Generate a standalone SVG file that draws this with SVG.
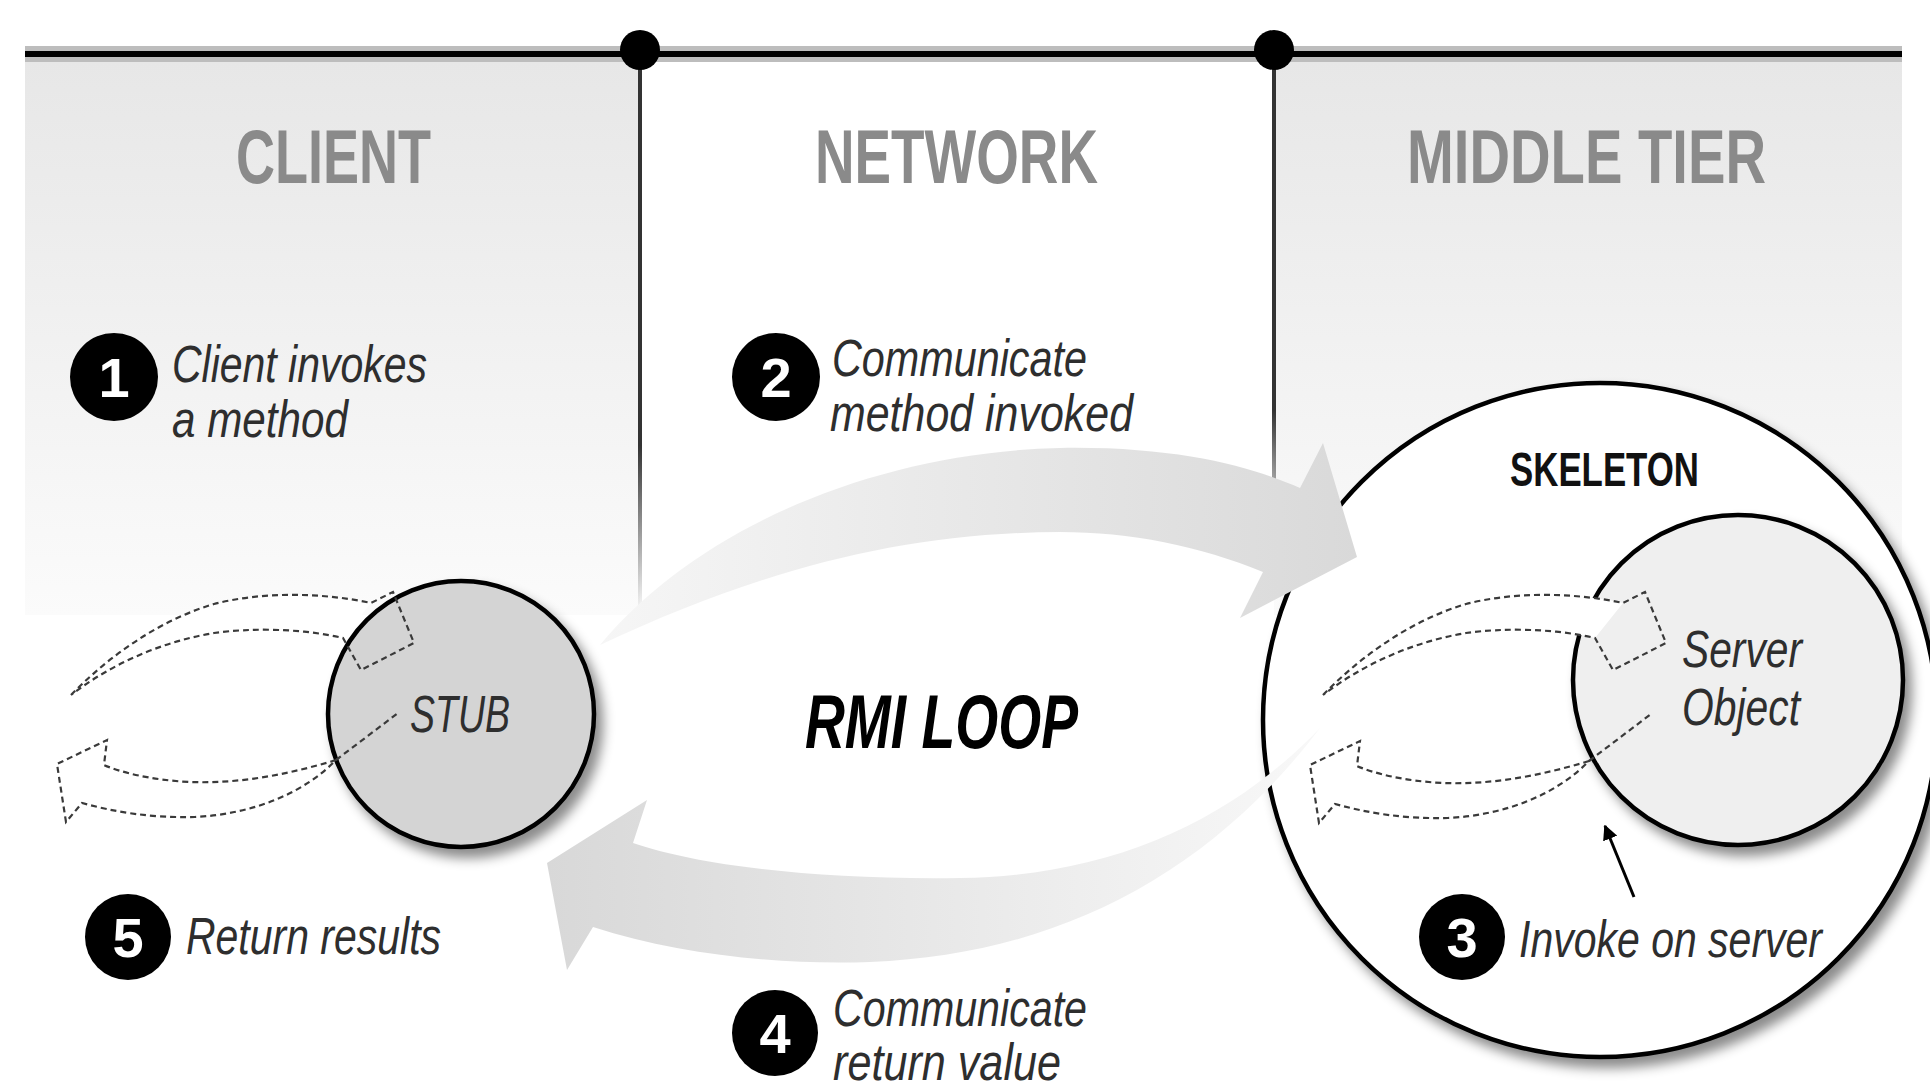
<svg xmlns="http://www.w3.org/2000/svg" xmlns:xlink="http://www.w3.org/1999/xlink" width="1930" height="1091" viewBox="0 0 1930 1091">
  <style>
    .hdr { font-family: "Liberation Sans", Arial, sans-serif; font-weight: bold; font-size: 76px; fill: #8a8a8a; }
    .lbl { font-family: "Liberation Sans", Arial, sans-serif; font-style: italic; font-size: 52px; fill: #2e2e2e; }
    .num { font-family: "Liberation Sans", Arial, sans-serif; font-weight: bold; font-size: 56px; fill: #ffffff; text-anchor: middle; }
    .step { fill: #000000; }
    .sep { stroke-width: 4; fill: none; }
    .dash { fill: none; stroke: #3a3a3a; stroke-width: 2.2; stroke-dasharray: 6 4; }
    .ring { stroke: #000000; stroke-width: 4.5; }
  </style>
  <defs>
    <linearGradient id="panelGrad" x1="0" y1="62" x2="0" y2="615" gradientUnits="userSpaceOnUse">
      <stop offset="0" stop-color="#e7e7e7"/>
      <stop offset="1" stop-color="#fbfbfb"/>
    </linearGradient>
    <linearGradient id="sepGradL" x1="0" y1="50" x2="0" y2="615" gradientUnits="userSpaceOnUse">
      <stop offset="0.7" stop-color="#333333"/>
      <stop offset="1" stop-color="#333333" stop-opacity="0"/>
    </linearGradient>
    <linearGradient id="sepGradR" x1="0" y1="50" x2="0" y2="500" gradientUnits="userSpaceOnUse">
      <stop offset="0.8" stop-color="#333333"/>
      <stop offset="1" stop-color="#333333" stop-opacity="0.3"/>
    </linearGradient>
    <linearGradient id="upGrad" x1="600" y1="0" x2="1357" y2="0" gradientUnits="userSpaceOnUse">
      <stop offset="0" stop-color="#f6f6f6"/>
      <stop offset="1" stop-color="#d9d9d9"/>
    </linearGradient>
    <linearGradient id="downGrad" x1="1320" y1="0" x2="547" y2="0" gradientUnits="userSpaceOnUse">
      <stop offset="0" stop-color="#f8f8f8"/>
      <stop offset="1" stop-color="#d8d8d8"/>
    </linearGradient>
    <filter id="shadow" x="-20%" y="-20%" width="150%" height="150%">
      <feDropShadow dx="7" dy="9" stdDeviation="6" flood-color="#000000" flood-opacity="0.45"/>
    </filter>
    <marker id="blackHead" viewBox="0 0 10 10" refX="9" refY="5" markerWidth="5" markerHeight="5" orient="auto" markerUnits="strokeWidth">
      <path d="M0,0 L10,5 L0,10 Z" fill="#000000"/>
    </marker>
    <g id="dashUp">
      <path d="M71,695 C110,655 160,620 214,604 C260,592 320,592 371,603 L343,638 C300,628 250,628 214,633 C160,642 110,665 71,695 Z" fill="#ffffff"/>
      <path class="dash" d="M71,695 C110,655 160,620 214,604 C260,592 320,592 371,603 L393,592 L414,643 L361,670 L343,638 C300,628 250,628 214,633 C160,642 110,665 71,695 Z"/>
    </g>
    <g id="dashDown">
      <path class="dash" d="M336,760 C290,774 240,784 190,782 C150,780 120,772 104,765 L107,740 L57,764 L66,822 L82,803 C115,812 150,818 195,817 C255,814 305,792 336,760 Z"/>
      <path class="dash" d="M336,760 L398,713"/>
    </g>
  </defs>

  <rect x="0" y="0" width="1930" height="1091" fill="#ffffff"/>

  <g id="panels">
    <rect id="panel-client" x="25" y="62" width="615" height="553" fill="url(#panelGrad)"/>
    <rect id="panel-network" x="640" y="62" width="634" height="553" fill="#ffffff"/>
    <rect id="panel-middle" x="1274" y="62" width="628" height="553" fill="url(#panelGrad)"/>
    <rect x="25" y="46" width="1877" height="16" fill="#bdbdbd"/>
    <line x1="25" y1="54" x2="1902" y2="54" stroke="#000000" stroke-width="6"/>
    <line class="sep" x1="640" y1="50" x2="640" y2="615" stroke="url(#sepGradL)"/>
    <line class="sep" x1="1274" y1="50" x2="1274" y2="500" stroke="url(#sepGradR)"/>
    <circle cx="640" cy="50" r="20" fill="#000000"/>
    <circle cx="1274" cy="50" r="20" fill="#000000"/>
    <text class="hdr" x="236" y="183" textLength="195" lengthAdjust="spacingAndGlyphs">CLIENT</text>
    <text class="hdr" x="815" y="183" textLength="283" lengthAdjust="spacingAndGlyphs">NETWORK</text>
    <text class="hdr" x="1407" y="183" textLength="359" lengthAdjust="spacingAndGlyphs">MIDDLE TIER</text>
  </g>

  <g id="skeleton">
    <circle class="ring" cx="1600" cy="720" r="337" fill="#ffffff" filter="url(#shadow)"/>
    <text x="1510" y="486" font-family="'Liberation Sans', Arial, sans-serif" font-weight="bold" font-size="48" fill="#111111" textLength="189" lengthAdjust="spacingAndGlyphs">SKELETON</text>
  </g>

  <g id="server-object">
    <circle class="ring" cx="1738" cy="680" r="165" fill="#efefef" filter="url(#shadow)"/>
    <text class="lbl" x="1682" y="667" font-size="56" textLength="120" lengthAdjust="spacingAndGlyphs" fill="#333333">Server</text>
    <text class="lbl" x="1682" y="725" font-size="56" textLength="118" lengthAdjust="spacingAndGlyphs" fill="#333333">Object</text>
  </g>

  <g id="stub">
    <circle class="ring" cx="461" cy="714" r="133" fill="#d4d4d4" filter="url(#shadow)"/>
    <text class="lbl" x="410" y="732" font-size="58" textLength="100" lengthAdjust="spacingAndGlyphs" fill="#333333">STUB</text>
  </g>

  <g id="connectors">
    <path id="arrow-invoke" d="M600,645 C700,525 880,452 1060,448 C1180,446 1255,468 1300,488 L1323,443 L1357,557 L1240,618 L1263,572 C1200,546 1130,532 1060,532 C900,533 760,570 600,645 Z" fill="url(#upGrad)"/>
    <path id="arrow-return" d="M1320,728 C1230,822 1110,876 960,878 C820,880 700,866 633,843 L647,800 L547,863 L567,970 L593,927 C680,955 780,965 870,962 C1050,955 1205,880 1320,728 Z" fill="url(#downGrad)"/>
    <use href="#dashUp"/>
    <use href="#dashDown"/>
    <use href="#dashUp" transform="translate(1252,0)"/>
    <use href="#dashDown" transform="translate(1253,1)"/>
    <line x1="1634" y1="897" x2="1605" y2="826" stroke="#000000" stroke-width="3" marker-end="url(#blackHead)"/>
  </g>

  <g id="rmi-loop">
    <text x="805" y="748" font-family="'Liberation Sans', Arial, sans-serif" font-weight="bold" font-style="italic" font-size="76" fill="#000000" textLength="273" lengthAdjust="spacingAndGlyphs">RMI LOOP</text>
  </g>

  <g id="step1">
    <circle class="step" cx="114" cy="377" r="44"/>
    <text class="num" x="114" y="397">1</text>
    <text class="lbl" x="172" y="382" textLength="255" lengthAdjust="spacingAndGlyphs">Client invokes</text>
    <text class="lbl" x="172" y="437" textLength="176" lengthAdjust="spacingAndGlyphs">a method</text>
  </g>
  <g id="step2">
    <circle class="step" cx="776" cy="377" r="44"/>
    <text class="num" x="776" y="397">2</text>
    <text class="lbl" x="832" y="376" textLength="255" lengthAdjust="spacingAndGlyphs">Communicate</text>
    <text class="lbl" x="830" y="431" textLength="303" lengthAdjust="spacingAndGlyphs">method invoked</text>
  </g>
  <g id="step3">
    <circle class="step" cx="1462" cy="937" r="43"/>
    <text class="num" x="1462" y="957">3</text>
    <text class="lbl" x="1519" y="957" textLength="303" lengthAdjust="spacingAndGlyphs">Invoke on server</text>
  </g>
  <g id="step4">
    <circle class="step" cx="775" cy="1033" r="43"/>
    <text class="num" x="775" y="1053">4</text>
    <text class="lbl" x="833" y="1026" font-size="50" textLength="254" lengthAdjust="spacingAndGlyphs">Communicate</text>
    <text class="lbl" x="833" y="1080" font-size="50" textLength="228" lengthAdjust="spacingAndGlyphs">return value</text>
  </g>
  <g id="step5">
    <circle class="step" cx="128" cy="937" r="43"/>
    <text class="num" x="128" y="957">5</text>
    <text class="lbl" x="186" y="954" textLength="255" lengthAdjust="spacingAndGlyphs">Return results</text>
  </g>
</svg>
